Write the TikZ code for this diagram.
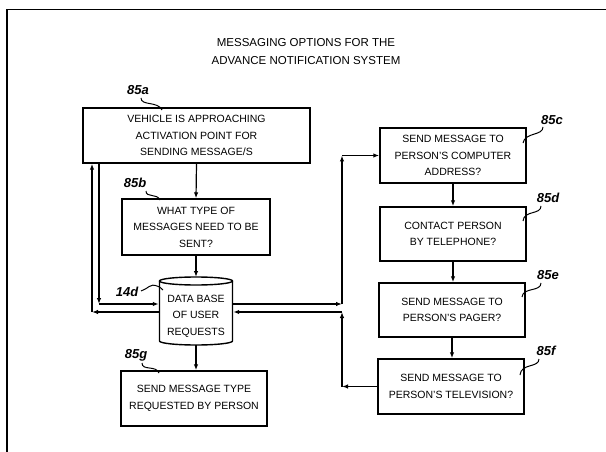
\documentclass[tikz,border=0pt]{standalone}
\usepackage{fontspec}
\setmainfont{Liberation Sans}
\usetikzlibrary{arrows.meta}
\begin{document}
\begin{tikzpicture}[x=1pt,y=-1pt,
  box/.style={draw, line width=1.4pt, inner sep=0pt, align=center, font=\fontsize{10.5}{16.5}\selectfont},
  title/.style={align=center, font=\fontsize{11.5}{18}\selectfont},
  lab/.style={font=\fontsize{13}{13}\selectfont\bfseries\itshape, inner sep=1pt},
  conn/.style={line width=1.2pt, -{Latex[length=6pt,width=4.5pt]}},
  lead/.style={line width=1pt},
  frame/.style={line width=1.5pt}
]
\useasboundingbox (0,0) rectangle (606,452);
\draw[frame] (7,452) -- (7,9.5) -- (606,9.5);

\node[title] (t) at (306,52) {MESSAGING OPTIONS FOR THE\\ADVANCE NOTIFICATION SYSTEM};

\node[box, minimum width=227pt, minimum height=55pt] (a) at (196.5,135.5) {VEHICLE IS APPROACHING\\ACTIVATION POINT FOR\\SENDING MESSAGE/S};
\node[box, minimum width=148pt, minimum height=56pt] (b) at (196,227) {WHAT TYPE OF\\MESSAGES NEED TO BE\\SENT?};
\node[box, minimum width=146pt, minimum height=55pt] (g) at (194,398.5) {SEND MESSAGE TYPE\\REQUESTED BY PERSON};
\node[box, minimum width=146pt, minimum height=55pt] (c) at (453,155.5) {SEND MESSAGE TO\\PERSON'S COMPUTER\\ADDRESS?};
\node[box, minimum width=146pt, minimum height=54pt] (d) at (453,234) {CONTACT PERSON\\BY TELEPHONE?};
\node[box, minimum width=146pt, minimum height=54pt] (e) at (452,310) {SEND MESSAGE TO\\PERSON'S PAGER?};
\node[box, minimum width=146pt, minimum height=55pt] (f) at (451,386.5) {SEND MESSAGE TO\\PERSON'S TELEVISION?};

% cylinder
\draw[line width=1.4pt] (159.5,281) -- (159.5,341) arc[start angle=180, end angle=360, x radius=36.5pt, y radius=4pt] -- (232.5,281);
\draw[line width=1.4pt] (196,281) ellipse [x radius=36.5pt, y radius=4pt];
\node[box, draw=none, minimum width=73pt, minimum height=60pt] (db) at (196,316) {DATA BASE\\OF USER\\REQUESTS};
\coordinate (dbtop) at (196,277);
\coordinate (dbbot) at (196,345);

% labels
\node[lab] (l85a) at (138,90) {85a};
\node[lab] (l85b) at (135,183) {85b};
\node[lab] (l14d) at (127,292) {14d};
\node[lab] (l85g) at (136,355) {85g};
\node[lab] (l85c) at (552,120) {85c};
\node[lab] (l85d) at (548,198) {85d};
\node[lab] (l85e) at (548,275) {85e};
\node[lab] (l85f) at (546,351) {85f};

\coordinate (pa) at (162,110);
\coordinate (pb) at (160,200);
\coordinate (pd14) at (163,290);
\coordinate (pg) at (159,373);
\coordinate (pc) at (523,143);
\coordinate (pdd) at (523,221);
\coordinate (pe) at (522,297);
\coordinate (pf) at (520,375);

\draw[lead] (141,98) .. controls (141,106) and (158,101) .. (pa);
\draw[lead] (146,191) .. controls (146,198) and (157,193) .. (pb);
\draw[lead] (141,291) .. controls (148,289) and (150,283) .. (157,286) .. controls (161,287) and (161,289) .. (pd14);
\draw[lead] (142,363) .. controls (142,371) and (156,365) .. (pg);
\draw[lead] (543,127) .. controls (543,136) and (525,132) .. (pc);
\draw[lead] (541,206) .. controls (541,215) and (524,210) .. (pdd);
\draw[lead] (541,283) .. controls (541,292) and (523,287) .. (pe);
\draw[lead] (539,359) .. controls (539,368) and (521,363) .. (pf);

% main flow
\draw[conn] (a.south) -- (b.north);
\draw[conn] (b.south) -- (dbtop);
\draw[conn] (dbbot) -- (g.north -| dbbot);
\draw[conn] (c.south) -- (d.north -| c.south);
\draw[conn] (d.south) -- (e.north -| d.south);
\draw[conn] (e.south) -- (f.north -| e.south);

% loops
\coordinate (L1) at (99,304);
\coordinate (L2) at (92,312);
\coordinate (R1) at (342,304);
\coordinate (R2) at (342,312);
\coordinate (R1t) at (342,155.5);
\coordinate (R2b) at (342,386.5);

\draw[conn] (a.south -| L1) -- (L1);
\draw[conn] (L1) -- (L1 -| db.west);
\draw[conn] (L2 -| db.west) -- (L2);
\draw[conn] (L2) -- (L2 |- a.south);

\draw[conn] (R1 -| db.east) -- (R1);
\draw[conn] (R1) -- (R1t);
\draw[conn] (R1t) -- (c.west);
\draw[conn] (f.west) -- (R2b);
\draw[conn] (R2b) -- (R2);
\draw[conn] (R2) -- (R2 -| db.east);
\end{tikzpicture}
\end{document}
